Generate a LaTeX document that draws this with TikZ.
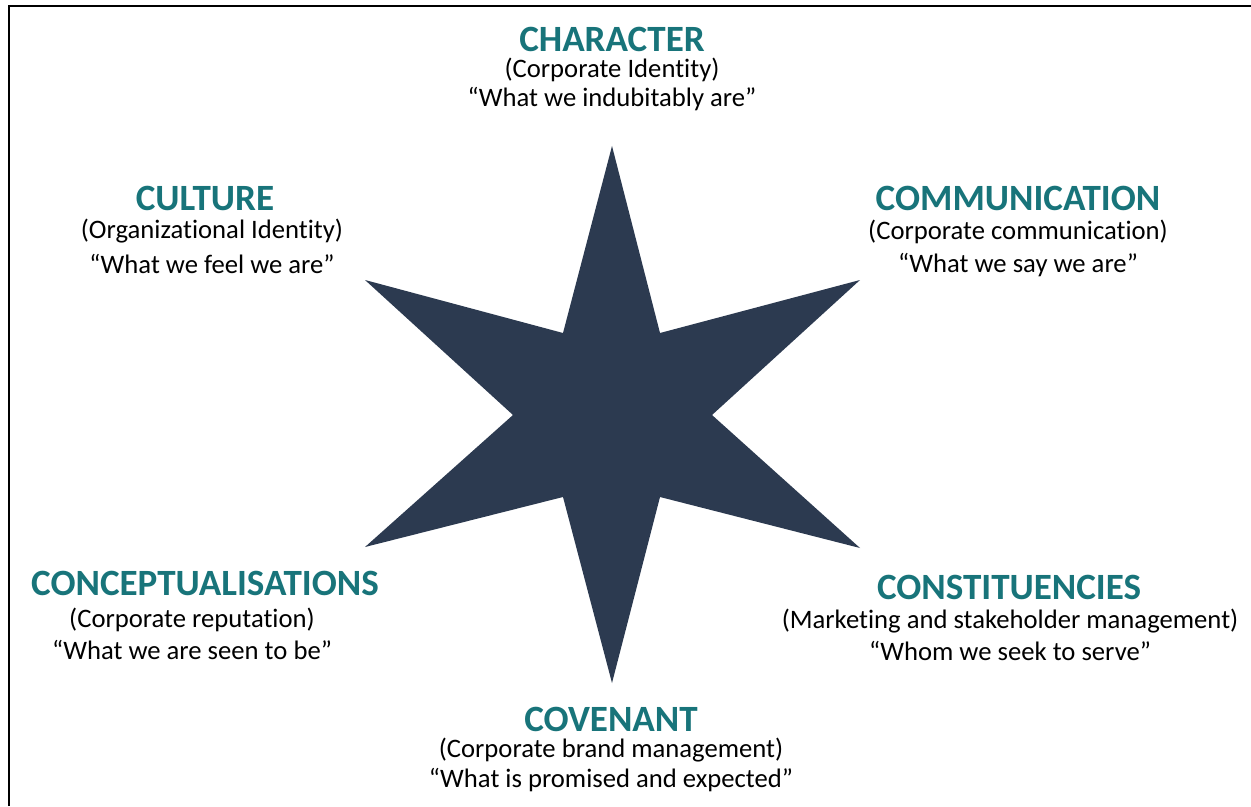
\documentclass[tikz,border=0pt]{standalone}
\usepackage{fontspec}
\setmainfont{Carlito}[Ligatures=NoCommon]
\definecolor{starfill}{RGB}{44,58,80}
\definecolor{teal}{RGB}{24,116,122}
\begin{document}
\begin{tikzpicture}[x=0.75pt,y=-0.75pt,
  title/.style={anchor=base,inner sep=0pt,font=\fontsize{27.8}{30}\selectfont\bfseries,text=teal},
  body/.style={anchor=base,inner sep=0pt,font=\fontsize{20}{23}\selectfont,text=black}]
\useasboundingbox (0,0) rectangle (1251,806);
\fill[white] (0,0) rectangle (1251,806);
\draw[line width=1.5pt] (9,806) -- (9,6) -- (1251,6);
% star
\fill[starfill] (612,146) -- (660,333) -- (860,280) -- (712,415) -- (860,548) -- (660,497)
  -- (612,683) -- (563,497) -- (365,547) -- (513,415) -- (365,280) -- (563,333) -- cycle;
% CHARACTER
\node[title] (t1) at (612,52) {CHARACTER};
\node[body] (a1) at (612,78) {(Corporate Identity)};
\node[body] (b1) at (612,107) {“What we indubitably are”};
% CULTURE
\node[title] (t2) at (205,210) {CULTURE};
\node[body] (a2) at (212,238) {(Organizational Identity)};
\node[body] (b2) at (212,273) {“What we feel we are”};
% COMMUNICATION
\node[title] (t3) at (1018,210) {COMMUNICATION};
\node[body] (a3) at (1018,239) {(Corporate communication)};
\node[body] (b3) at (1018,272) {“What we say we are”};
% CONCEPTUALISATIONS
\node[title] (t4) at (205,595) {CONCEPTUALISATIONS};
\node[body] (a4) at (192,627) {(Corporate reputation)};
\node[body] (b4) at (192,659) {“What we are seen to be”};
% CONSTITUENCIES
\node[title] (t5) at (1009,599) {CONSTITUENCIES};
\node[body] (a5) at (1010,628) {(Marketing and stakeholder management)};
\node[body] (b5) at (1010,660) {“Whom we seek to serve”};
% COVENANT
\node[title] (t6) at (611,731) {COVENANT};
\node[body] (a6) at (611,757) {(Corporate brand management)};
\node[body] (b6) at (611,787) {“What is promised and expected”};
\end{tikzpicture}
\end{document}
